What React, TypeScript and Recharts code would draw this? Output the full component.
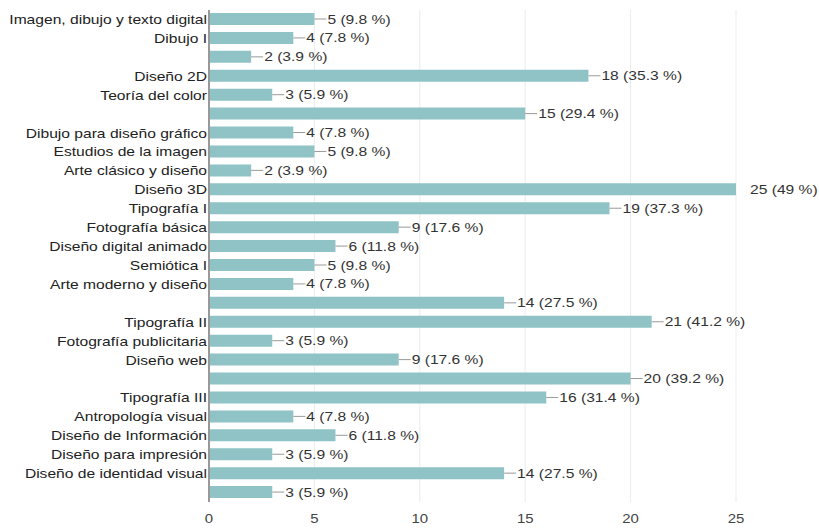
import React from "react";
import { BarChart, Bar, XAxis, YAxis, CartesianGrid, LabelList } from "recharts";

const categories = [
  "Imagen, dibujo y texto digital",
  "Dibujo I",
  "",
  "Diseño 2D",
  "Teoría del color",
  "",
  "Dibujo para diseño gráfico",
  "Estudios de la imagen",
  "Arte clásico y diseño",
  "Diseño 3D",
  "Tipografía I",
  "Fotografía básica",
  "Diseño digital animado",
  "Semiótica I",
  "Arte moderno y diseño",
  "",
  "Tipografía II",
  "Fotografía publicitaria",
  "Diseño web",
  "",
  "Tipografía III",
  "Antropología visual",
  "Diseño de Información",
  "Diseño para impresión",
  "Diseño de identidad visual",
  "",
];

const counts = [5, 4, 2, 18, 3, 15, 4, 5, 2, 25, 19, 9, 6, 5, 4, 14, 21, 3, 9, 20, 16, 4, 6, 3, 14, 3];

const percents = [
  "9.8", "7.8", "3.9", "35.3", "5.9", "29.4", "7.8", "9.8", "3.9", "49", "37.3", "17.6", "11.8",
  "9.8", "7.8", "27.5", "41.2", "5.9", "17.6", "39.2", "31.4", "7.8", "11.8", "5.9", "27.5", "5.9",
];

const xTicks = [0, 5, 10, 15, 20, 25];

const data = categories.map((name, i) => ({
  id: String(i),
  name,
  value: counts[i],
  pct: percents[i],
}));

const FONT = "'Liberation Sans', Arial, sans-serif";
const MAX = Math.max(...counts);
// the source text is a bit stretched sideways
const STRETCH = 1.25;

function CategoryTick(props: any) {
  const { x, y, payload } = props;
  return (
    <text
      transform={`translate(${x},${y}) scale(${STRETCH},1)`}
      textAnchor="end"
      dy={4.5}
      fontSize={12.5}
      fill="#222"
      fontFamily={FONT}
    >
      {categories[Number(payload.value)]}
    </text>
  );
}

function NumberTick(props: any) {
  const { x, y, payload } = props;
  return (
    <text
      transform={`translate(${x},${y}) scale(1.15,1)`}
      textAnchor="middle"
      dy={11}
      fontSize={13}
      fill="#444"
      fontFamily={FONT}
    >
      {payload.value}
    </text>
  );
}

function ValueLabel(props: any) {
  const { x, y, width, height, index } = props;
  const d = data[index];
  const endX = x + width;
  const cy = y + height / 2;
  const atEdge = d.value === MAX;
  const tx = endX + (atEdge ? 14 : 13);
  return (
    <g>
      {!atEdge && <line x1={endX} y1={cy} x2={endX + 12} y2={cy} stroke="#999" strokeWidth={1} />}
      <text
        transform={`translate(${tx},${cy}) scale(${STRETCH},1)`}
        dy={4.5}
        fontSize={12.5}
        fill="#333"
        fontFamily={FONT}
      >
        {`${d.value} (${d.pct} %)`}
      </text>
    </g>
  );
}

export default function App() {
  return (
    <div style={{ position: "absolute", left: 0, top: 0, background: "#fff" }}>
      <BarChart
        width={819}
        height={529}
        data={data}
        layout="vertical"
        margin={{ top: 10, right: 83, bottom: 0, left: 0 }}
        barSize={12}
      >
        <CartesianGrid horizontal={false} stroke="#ececec" />
        <XAxis
          type="number"
          domain={[0, 25]}
          ticks={xTicks}
          axisLine={false}
          tickLine={false}
          height={27}
          tick={<NumberTick />}
          tickMargin={4}
        />
        <YAxis
          type="category"
          dataKey="id"
          width={209}
          interval={0}
          tickLine={false}
          tickSize={0}
          tickMargin={2}
          axisLine={{ stroke: "#999", strokeWidth: 2 }}
          tick={<CategoryTick />}
        />
        <Bar dataKey="value" fill="#8fc3c5" isAnimationActive={false}>
          <LabelList dataKey="value" content={<ValueLabel />} />
        </Bar>
      </BarChart>
    </div>
  );
}
